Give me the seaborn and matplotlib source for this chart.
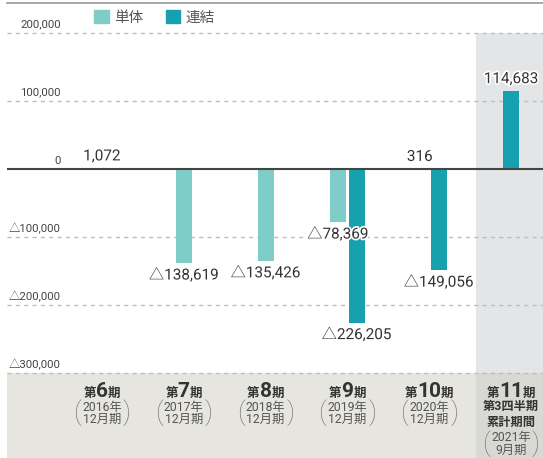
import matplotlib
matplotlib.use("Agg")
import matplotlib.pyplot as plt
import seaborn as sns
import pandas as pd
import numpy as np
from matplotlib import patheffects as pe
from matplotlib.patches import Patch
from matplotlib.transforms import IdentityTransform, blended_transform_factory

sns.set_theme(style="white")
plt.rcParams['font.family'] = ['Roboto', 'Noto Sans CJK JP', 'DejaVu Sans']

# ---------------- data ----------------
periods = ["第6期", "第7期", "第8期", "第9期", "第10期", "第11期"]
period_nums = ["6", "7", "8", "9", "10", "11"]
year_labels = ["2016年", "2017年", "2018年", "2019年", "2020年", "2021年"]
month_labels = ["12月期", "12月期", "12月期", "12月期", "12月期", "9月期"]
extra_labels = ["第3四半期", "累計期間"]
series = ["単体", "連結"]
tantai = [1072, -138619, -135426, -78369, 316, np.nan]
renketsu = [np.nan, np.nan, np.nan, -226205, -149056, 114683]
ytick_values = [200000, 100000, 0, -100000, -200000, -300000]
colors = {"単体": "#7ecdc8", "連結": "#17a0ae"}

rows = []
for p, a, b in zip(periods, tantai, renketsu):
    rows.append({"period": p, "series": "単体", "value": a})
    rows.append({"period": p, "series": "連結", "value": b})
df = pd.DataFrame(rows).dropna()
counts = df.groupby("period").size()
paired = counts[counts > 1].index
df_pair = df[df["period"].isin(paired)]
df_single = df[~df["period"].isin(paired)]

# ---------------- figure ----------------
W, H = 543, 458
fig = plt.figure(figsize=(W / 100, H / 100), dpi=100)
ax = fig.add_axes([7 / W, 0, 536 / W, 455 / H])

XLO, XHI = -1.161, 5.391
YLO, YHI = -425000, 244118
SHADE_X = 4.572

# background shading
ax.fill_between([SHADE_X, XHI], -300000, 200000, color="#e4e5e7", lw=0, zorder=0)
ax.fill_between([XLO, XHI], YLO, -300000, color="#e6e5df", lw=0, zorder=0)
ax.fill_between([SHADE_X, XHI], YLO, -300000, color="#d9d9d4", lw=0, zorder=0)

# gridlines
for v in ytick_values:
    if v != 0:
        ax.axhline(v, color="#bdbdbd", lw=1, ls=(0, (3, 3)), zorder=0.8)

sns.barplot(data=df_pair, x="period", y="value", hue="series", order=periods,
            hue_order=series, palette=colors, dodge=True, width=0.4646, gap=0.158,
            saturation=1, errorbar=None, legend=False, linewidth=0, ax=ax, zorder=2)
sns.barplot(data=df_single, x="period", y="value", hue="series", order=periods,
            hue_order=series, palette=colors, dodge=False, width=0.1956,
            saturation=1, errorbar=None, legend=False, linewidth=0, ax=ax, zorder=2)

ax.axhline(0, color="#444444", lw=1.5, zorder=3)

ax.set_xlim(XLO, XHI)
ax.set_ylim(YLO, YHI)
ax.set_xticks([])
ax.set_yticks([])
ax.set_xlabel("")
ax.set_ylabel("")
for s in ["left", "right", "bottom"]:
    ax.spines[s].set_visible(False)
ax.spines["top"].set_visible(True)
ax.spines["top"].set_color("#999999")
ax.spines["top"].set_linewidth(1.2)


def fmt(v):
    v = int(round(v))
    return ("△{:,}".format(-v)) if v < 0 else "{:,}".format(v)


for cont in ax.containers:
    vals = list(cont.datavalues)
    if len(vals) == 0:
        continue
    ax.bar_label(cont, labels=[fmt(v) for v in vals], padding=3.5, fontsize=11,
                 color="#333333", zorder=5,
                 path_effects=[pe.withStroke(linewidth=2.5, foreground="white")])

# y labels
trans = blended_transform_factory(ax.transAxes, ax.transData)
for v in ytick_values:
    ax.text(0.1007, v + 12500, fmt(v), transform=trans, ha="right", va="center",
            fontsize=8.2, color="#444444")

# legend
handles = [Patch(color=colors[s]) for s in series]
fig.legend(handles, series, loc="center left", bbox_to_anchor=(94 / W, 1 - 17.5 / H),
           ncol=2, frameon=False, fontsize=10.5, handlelength=1.0, handleheight=1.0,
           handletextpad=0.35, columnspacing=1.55, borderpad=0, borderaxespad=0,
           labelcolor="#555555")

# category labels
renderer = fig.canvas.get_renderer()
ident = IdentityTransform()


def seg_text(xc, y_base, segments, color):
    texts = []
    for s, size, weight in segments:
        t = fig.text(0, 0, s, fontsize=size, fontweight=weight, color=color,
                     transform=ident, va="baseline", ha="left")
        texts.append(t)
    widths = [t.get_window_extent(renderer).width for t in texts]
    x = xc - sum(widths) / 2
    for t, w in zip(texts, widths):
        t.set_position((x, y_base))
        x += w


def ypx(y):
    return H - y


for i, p in enumerate(periods):
    xc = ax.transData.transform((i, 0))[0]
    seg_text(xc, ypx(397), [("第", 9, "bold"), (period_nums[i], 15, "bold"),
                            ("期", 9, "bold")], "#333333")
    if i < 5:
        ys = [407, 419]
    else:
        for j, lab in enumerate(extra_labels):
            fig.text(xc, ypx(406 + 16 * j), lab, transform=ident, ha="center",
                     va="center", fontsize=8.8, fontweight="bold", color="#333333")
        ys = [437, 450]
    fig.text(xc, ypx(ys[0]), year_labels[i], transform=ident, ha="center", va="center",
             fontsize=8.8, color="#555555")
    fig.text(xc, ypx(ys[1]), month_labels[i], transform=ident, ha="center", va="center",
             fontsize=8.8, color="#555555")
    yc = (ys[0] + ys[1]) / 2
    fig.text(xc - 25, ypx(yc), "(", transform=ident, ha="center", va="center",
             fontsize=19, color="#777777", fontweight="light")
    fig.text(xc + 25, ypx(yc), ")", transform=ident, ha="center", va="center",
             fontsize=19, color="#777777", fontweight="light")

fig.savefig("out.png", dpi=100)
